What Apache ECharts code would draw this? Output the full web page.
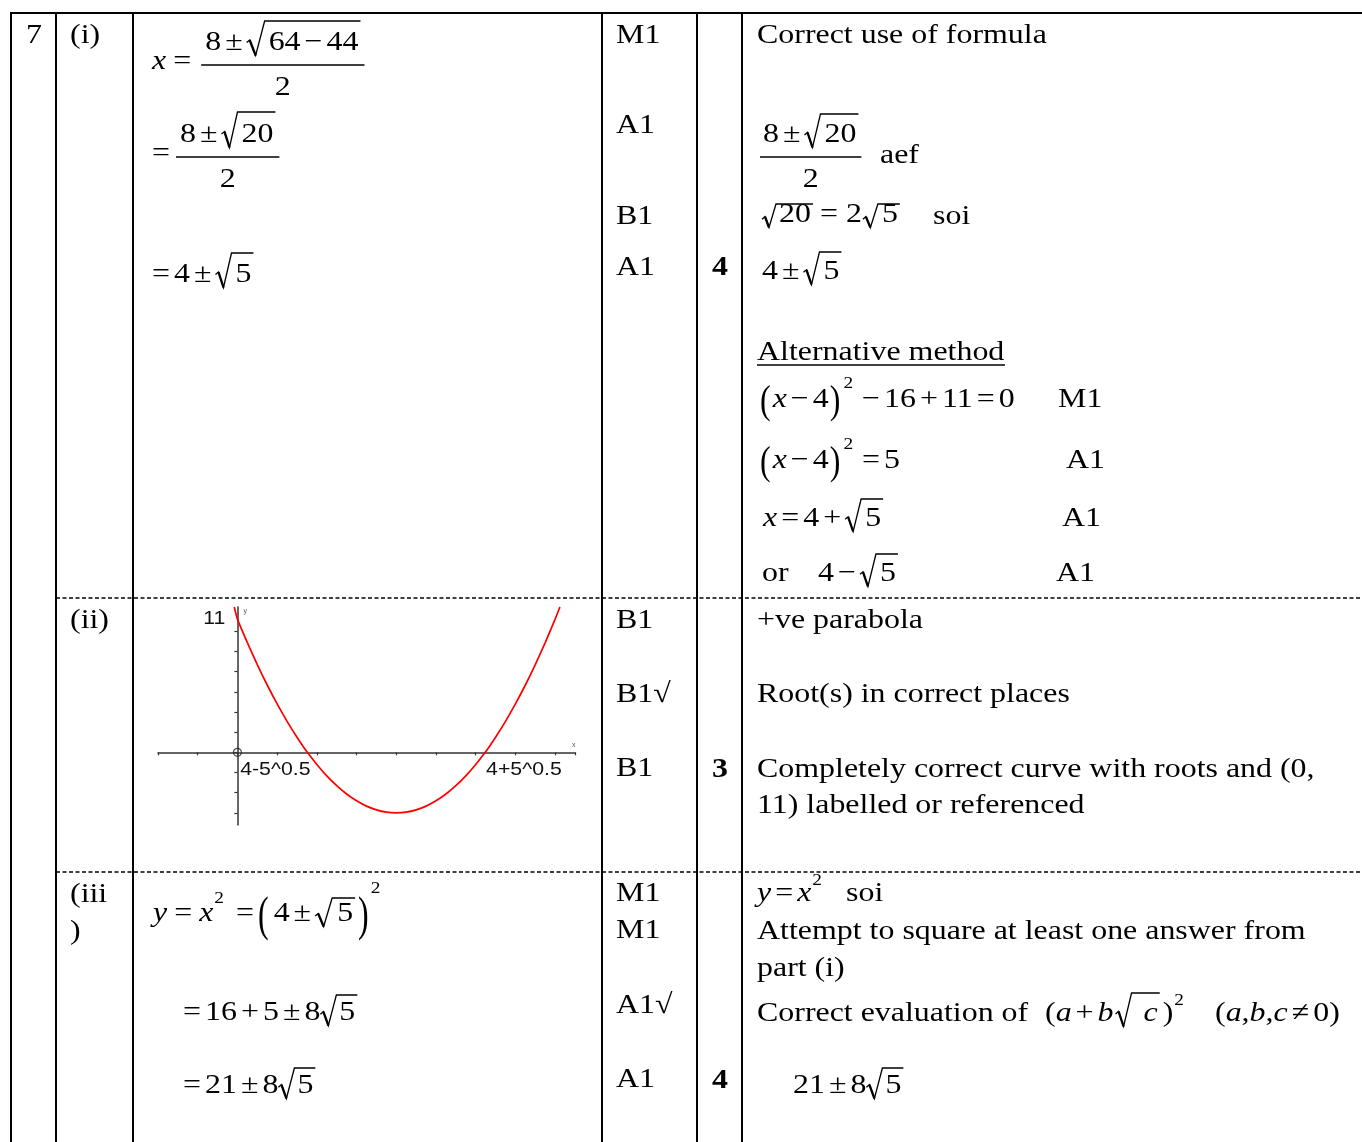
<!DOCTYPE html>
<html><head><meta charset="utf-8">
<script src="https://cdn.jsdelivr.net/npm/echarts@6/dist/echarts.min.js"></script>
<style>html,body{margin:0;padding:0;background:#fff}#c{width:1362px;height:1142px}</style>
</head><body><div id="c"></div>
<script>
// ---------- chart data ----------
const curveX = [-0.08, 0, 0.25, 0.5, 0.75, 1, 1.25, 1.5, 1.76, 2, 2.25, 2.5, 2.75, 3, 3.25, 3.5, 3.75, 4,
  4.25, 4.5, 4.75, 5, 5.25, 5.5, 5.75, 6, 6.24, 6.5, 6.75, 7, 7.25, 7.5, 7.75, 8, 8.12];
const curveY = [12, 11, 9.06, 7.25, 5.56, 4, 2.56, 1.25, 0, -1, -1.94, -2.75, -3.44, -4, -4.44, -4.75, -4.94, -5,
  -4.94, -4.75, -4.44, -4, -3.44, -2.75, -1.94, -1, 0, 1.25, 2.56, 4, 5.56, 7.25, 9.06, 11, 12];
const rootX = [1.764, 6.236];
const rootLabels = ['4-5^0.5', '4+5^0.5'];
const yLabelValues = [11];
const yLabelTexts = ['11'];
const yTickValues = [-5, -10/3, -5/3, 0, 5/3, 10/3, 5, 20/3, 25/3, 10];
const originPoint = [0, 0];

// ---------- table text ----------
const partLabels = ['7', '(i)', '(ii)', '(iii', ')'];
const markLabels = ['M1', 'A1', 'B1', 'A1', 'B1', 'B1\u221A', 'B1', 'M1', 'M1', 'A1\u221A', 'A1'];
const totalLabels = ['4', '3', '4'];
const commentLines = ['Correct use of formula', 'Alternative method', '+ve parabola', 'Root(s) in correct places',
  'Completely correct curve with roots and (0,', '11) labelled or referenced',
  'Attempt to square at least one answer from', 'part (i)', 'Correct evaluation of'];

// ---------- layout ----------
const S = 28, SX = 1.14, OPG = 4, DY = 2;
const SERIF = '"Liberation Serif","Times New Roman",Times,serif';
const SANS = '"Liberation Sans",Arial,sans-serif';
const mctx = document.createElement('canvas').getContext('2d');
function fontStr(size, it, bold, fam) { return (it ? 'italic ' : '') + (bold ? 'bold ' : '') + size + 'px ' + (fam || SERIF); }
function tw(s, size, it, bold) { mctx.font = fontStr(size, it, bold); return mctx.measureText(s).width * SX; }
const G = [];
function T(s, x, y, o) {
  o = o || {};
  G.push({type: 'text', x: x, y: y + (o.raw ? 0 : DY), scaleX: o.sx || SX, scaleY: o.sy || 1, silent: true,
    style: {text: s, x: 0, y: 0, fill: o.color || '#000', font: fontStr(o.size || S, o.it, o.bold, o.fam),
      align: o.align || 'left', verticalAlign: 'middle'}});
}
function L(x1, y1, x2, y2, w, dash) {
  G.push({type: 'line', silent: true, shape: {x1: x1, y1: y1, x2: x2, y2: y2},
    style: {stroke: '#000', lineWidth: w || 2, lineDash: dash || null}});
}
function P(points, w) {
  G.push({type: 'polyline', silent: true, shape: {points: points}, style: {stroke: '#000', lineWidth: w || 1.4, fill: null}});
}
function radical(x0, top, bot, xe, rw) {
  const mid = top + 0.58 * (bot - top);
  P([[x0, mid + 1.5], [x0 + 3, mid - 1], [x0 + rw * 0.5, bot], [x0 + rw, top], [xe, top]], 1.3);
  L(x0 + 3, mid - 1, x0 + rw * 0.5, bot, 2.3);
}
function run(items, x, y, draw) {
  let cx = x, first = true;
  for (const it of items) {
    if (typeof it === 'string') {
      const op = '=\u00B1+\u2212\u2260'.indexOf(it) >= 0;
      if (op && !first) cx += OPG;
      if (draw) T(it, cx, y);
      cx += tw(it, S);
      if (op) cx += OPG;
    } else if (it.i !== undefined) {
      if (draw) T(it.i, cx, y, {it: true});
      cx += tw(it.i, S, true) + (it.k || 0);
    } else if (it.g !== undefined) {
      cx += it.g;
    } else if (it.sup !== undefined) {
      const sx = cx + (it.dx || 1);
      if (draw) T(it.sup, sx, y + (it.dy || -15), {size: 17});
      cx = sx + tw(it.sup, 17);
    } else if (it.sq) {
      const rw = it.rw || 16, gap = it.gap || 4;
      const inner = run(it.sq, 0, 0, false);
      const c0 = cx + rw + gap;
      if (draw) { radical(cx, y + DY - (it.h || 20), y + DY + (it.b || 12.5), c0 + inner + 2, rw); run(it.sq, c0, y, true); }
      cx = c0 + inner + 2;
    } else if (it.fr) {
      const wn = run(it.fr[0], 0, 0, false), wd = run(it.fr[1], 0, 0, false);
      const W = Math.max(wn, wd) + (it.pad || 6);
      if (draw) {
        const by = y + (it.bar || 3);
        run(it.fr[0], cx + (W - wn) / 2, by - 22, true);
        run(it.fr[1], cx + (W - wd) / 2, by + 22.5, true);
        L(cx, by + DY, cx + W, by + DY, 1.5);
      }
      cx += W;
    } else if (it.p !== undefined) {
      if (draw) T(it.p, cx, y + (it.dy || 0), {sy: it.sy || 1.4});
      cx += tw(it.p, S) + (it.k || 0);
    }
    first = false;
  }
  return cx;
}

// table rules
L(10, 13, 1362, 13, 2);
[11, 56, 133, 602, 697, 742].forEach(function (x) { L(x, 12, x, 1142, 2); });
L(56, 598, 1362, 598, 1.5, [4, 2.5]);
L(56, 872, 1362, 872, 1.5, [4, 2.5]);

// column 1/2
const partPos = [[26, 34], [70, 34], [70, 619], [70, 893], [70, 930]];
partLabels.forEach(function (s, i) { T(s, partPos[i][0], partPos[i][1]); });
// marks
const markY = [34, 124, 215, 266, 619, 693, 767, 892, 929, 1004, 1078];
markLabels.forEach(function (s, i) { T(s, 616, markY[i]); });
const totalY = [266, 768, 1079];
totalLabels.forEach(function (s, i) { T(s, 720, totalY[i], {bold: true, align: 'center'}); });

// (i) working
run([{i: 'x', k: 3}, '=', {g: 6}, {fr: [['8', '\u00B1', {sq: ['64', '\u2212', '44'], h: 22, rw: 18}], ['2']], pad: 8}], 152, 60, true);
run(['=', {g: 2}, {fr: [['8', '\u00B1', {sq: ['20'], h: 23}], ['2']], pad: 8}], 152, 152, true);
run(['=', '4', '\u00B1', {sq: ['5'], h: 22}], 152, 273, true);

// (i) comments
T(commentLines[0], 757, 34);
run([{fr: [['8', '\u00B1', {sq: ['20'], h: 21}], ['2']]}], 760, 152, true);
T('aef', 880, 154);
run([{sq: ['20'], h: 11, rw: 14, gap: 3}, {g: 3}, '=', {g: 4}, '2', {g: 1}, {sq: ['5'], h: 11, rw: 15, gap: 4}], 762, 213, true);
T('soi', 933, 215);
run(['4', '\u00B1', {sq: ['5'], h: 20}], 762, 270, true);

T(commentLines[1], 757, 351); L(757, 365, 1005, 365, 1.5);
function par(c) { return {p: c, sy: 1.45, dy: 2}; }
run([par('('), {g: 2}, {i: 'x'}, '\u2212', '4', {g: 1}, par(')'), {sup: '2', dy: -16, dx: 3}, {g: 5}, '\u2212', '16', '+', '11', '=', '0'], 760, 398, true);
T('M1', 1058, 398);
run([par('('), {g: 2}, {i: 'x'}, '\u2212', '4', {g: 1}, par(')'), {sup: '2', dy: -16, dx: 3}, {g: 5}, '=', '5'], 760, 459, true);
T('A1', 1066, 459);
run([{i: 'x'}, '=', '4', '+', {sq: ['5'], h: 20}], 763, 517, true);
T('A1', 1062, 517);
T('or', 762, 572);
run(['4', '\u2212', {sq: ['5'], h: 20}], 818, 572, true);
T('A1', 1056, 572);

// (ii) comments
T(commentLines[2], 757, 619);
T(commentLines[3], 757, 693);
T(commentLines[4], 757, 768);
T(commentLines[5], 757, 804);

// (iii) working
run([{i: 'y', k: 3}, '=', {g: 3}, {i: 'x'}, {sup: '2', dy: -15}, {g: 8}, '=', {p: '(', sy: 1.75, dy: 3}, {g: 5}, '4', '\u00B1',
  {sq: ['5'], h: 16, rw: 17, gap: 5}, {g: 3}, {p: ')', sy: 1.75, dy: 3}, {sup: '2', dy: -25, dx: 2}], 153, 912, true);
run(['=', '16', '+', '5', '\u00B1', '8', {sq: ['5'], h: 18, gap: 3}], 183, 1011, true);
run(['=', '21', '\u00B1', '8', {sq: ['5'], h: 18, gap: 3}], 183, 1084, true);

// (iii) comments
run([{i: 'y'}, '=', {i: 'x'}, {sup: '2', dy: -13}], 757, 892, true);
T('soi', 846, 892);
T(commentLines[6], 757, 930);
T(commentLines[7], 757, 967);
T(commentLines[8], 757, 1012);
run(['(', {i: 'a'}, '+', {i: 'b'}, {g: 2}, {sq: [{i: 'c'}], h: 21, gap: 12}, {g: 3}, ')', {sup: '2', dy: -13}], 1045, 1012, true);
run(['(', {i: 'a'}, ',', {i: 'b'}, ',', {i: 'c'}, '\u2260', '0', ')'], 1215, 1012, true);
run(['21', '\u00B1', '8', {sq: ['5'], h: 18, gap: 3}], 793, 1084, true);

// ---------- chart ----------
const chart = echarts.init(document.getElementById('c'), null, {renderer: 'canvas', width: 1362, height: 1142});
const axisColor = '#333';
chart.setOption({
  animation: false,
  grid: {left: 158, top: 607, width: 417, height: 218, containLabel: false},
  xAxis: {type: 'value', min: -2, max: 8.5, interval: 1, name: 'x', nameLocation: 'end', nameGap: -3,
    nameTextStyle: {fontSize: 7, color: '#555', verticalAlign: 'bottom', padding: [0, 0, 4, 0]},
    axisLine: {onZero: true, lineStyle: {color: axisColor, width: 1.5}},
    axisTick: {show: true, length: 3, lineStyle: {color: axisColor, width: 1.2}},
    axisLabel: {show: false}, splitLine: {show: false}},
  yAxis: {type: 'value', min: -6, max: 12, name: 'y', nameLocation: 'end', nameGap: -8,
    nameTextStyle: {fontSize: 7, color: '#555', align: 'left', verticalAlign: 'bottom', padding: [0, 0, 0, 6]},
    axisLine: {onZero: true, lineStyle: {color: axisColor, width: 1.5}},
    axisTick: {show: true, length: 3, customValues: yTickValues, lineStyle: {color: axisColor, width: 1.2}},
    axisLabel: {show: false},
    splitLine: {show: false}},
  series: [
    {type: 'line', data: curveX.map(function (x, i) { return [x, curveY[i]]; }), smooth: 0.2, symbol: 'none',
      lineStyle: {color: '#ff0000', width: 1.7}, clip: false, silent: true},
    {type: 'scatter', data: [originPoint], symbol: 'circle', symbolSize: 8, silent: true,
      itemStyle: {color: 'rgba(0,0,0,0)', borderColor: '#222', borderWidth: 1.2}}
  ]
});
// labels placed through the chart's own scales
rootX.forEach(function (rx, i) {
  const p = chart.convertToPixel({gridIndex: 0}, [rx, 0]);
  T(rootLabels[i], i === 0 ? p[0] + 3 : p[0] + 1, p[1] + 18, {raw: true, fam: SANS, size: 18.5, sx: 1.15, color: '#111', align: i === 0 ? 'right' : 'left'});
});
yLabelValues.forEach(function (v, i) {
  const p = chart.convertToPixel({gridIndex: 0}, [0, v]);
  T(yLabelTexts[i], p[0] - 12, p[1], {raw: true, fam: SANS, size: 18.5, sx: 1.15, color: '#111', align: 'right'});
});
chart.setOption({graphic: {elements: G}});
</script>
</body></html>
